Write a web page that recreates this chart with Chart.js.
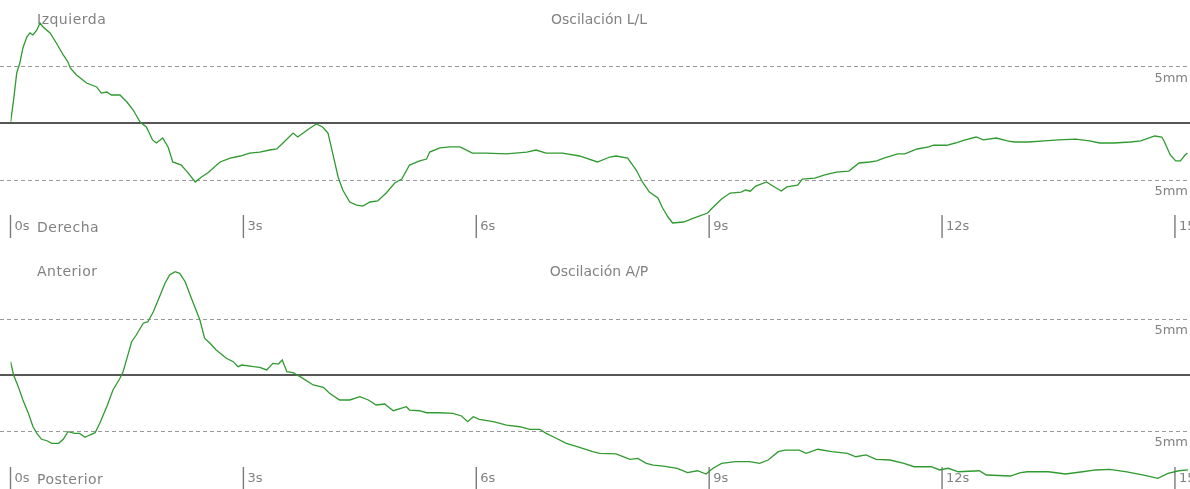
<!DOCTYPE html>
<html lang="es">
<head>
  <meta charset="UTF-8" />
  <title>Oscilación</title>
  <script src="https://cdn.jsdelivr.net/npm/chart.js"></script>
  <style>
    html, body { margin: 0; padding: 0; background: #fff; overflow: hidden; }
    .panel { position: absolute; left: 0; }
    #llPanel { top: 0; }
    #apPanel { top: 252px; }
  </style>
</head>
<body>
  <canvas id="llPanel" class="panel" width="1190" height="252"></canvas>
  <canvas id="apPanel" class="panel" width="1190" height="252"></canvas>

  <script>
    // Oscilación L/L (mm, + = izquierda)
    const llTime = [0, 0.04, 0.08, 0.12, 0.16, 0.21, 0.25, 0.29, 0.34, 0.38, 0.42, 0.51, 0.59, 0.68, 0.74, 0.77, 0.85, 0.98, 1.11, 1.17,
      1.24, 1.30, 1.41, 1.50, 1.58, 1.67, 1.75, 1.83, 1.88, 1.96, 2.03, 2.09, 2.20, 2.29, 2.38, 2.46, 2.54, 2.70, 2.83, 2.96,
      3.08, 3.21, 3.34, 3.43, 3.51, 3.64, 3.70, 3.77, 3.86, 3.94, 4.02, 4.09, 4.15, 4.22, 4.28, 4.37, 4.46, 4.54, 4.63, 4.73,
      4.84, 4.95, 5.04, 5.14, 5.27, 5.36, 5.40, 5.53, 5.66, 5.79, 5.95, 6.13, 6.39, 6.65, 6.77, 6.90, 7.11, 7.33, 7.56, 7.72,
      7.80, 7.95, 8.06, 8.14, 8.23, 8.34, 8.40, 8.47, 8.53, 8.67, 8.80, 8.98, 9.04, 9.16, 9.27, 9.41, 9.47, 9.53, 9.60, 9.74,
      9.82, 9.93, 10.00, 10.14, 10.20, 10.36, 10.49, 10.64, 10.80, 10.93, 11.07, 11.16, 11.25, 11.43, 11.52, 11.68, 11.83, 11.89, 12.06, 12.17,
      12.30, 12.44, 12.53, 12.70, 12.84, 12.93, 13.11, 13.32, 13.50, 13.72, 13.90, 14.03, 14.21, 14.43, 14.56, 14.74, 14.83, 14.86, 14.94, 15.01,
      15.07, 15.13, 15.16];
    const llMm = [0, 2.04, 4.43, 5.31, 6.64, 7.61, 7.97, 7.79, 8.23, 8.85, 8.50, 7.97, 7.08, 6.02, 5.40, 4.87, 4.25, 3.54, 3.19, 2.65,
      2.74, 2.48, 2.48, 1.86, 1.15, 0.09, -0.35, -1.50, -1.77, -1.33, -2.12, -3.45, -3.72, -4.43, -5.22, -4.78, -4.43, -3.45, -3.10, -2.92,
      -2.66, -2.57, -2.39, -2.30, -1.77, -0.89, -1.24, -0.89, -0.44, -0.09, -0.35, -0.89, -2.66, -4.78, -5.93, -6.99, -7.26, -7.35, -6.99, -6.90,
      -6.19, -5.31, -4.96, -3.72, -3.36, -3.19, -2.57, -2.21, -2.12, -2.12, -2.66, -2.66, -2.74, -2.57, -2.39, -2.66, -2.66, -2.92, -3.45, -3.01,
      -2.92, -3.10, -4.16, -5.22, -6.11, -6.64, -7.52, -8.32, -8.85, -8.76, -8.41, -7.97, -7.52, -6.73, -6.20, -6.11, -5.93, -6.04, -5.58, -5.22,
      -5.58, -6.02, -5.66, -5.49, -4.96, -4.87, -4.60, -4.34, -4.25, -3.54, -3.45, -3.36, -3.10, -2.74, -2.74, -2.30, -2.12, -1.95, -1.97, -1.77,
      -1.50, -1.24, -1.50, -1.33, -1.59, -1.68, -1.68, -1.59, -1.50, -1.42, -1.59, -1.77, -1.77, -1.68, -1.59, -1.15, -1.24, -1.59, -2.83, -3.36,
      -3.36, -2.83, -2.66];

    // Oscilación A/P (mm, + = anterior)
    const apTime = [0, 0.04, 0.10, 0.16, 0.23, 0.29, 0.34, 0.40, 0.47, 0.53, 0.62, 0.68, 0.74, 0.83, 0.89, 0.96, 1.02, 1.09, 1.15, 1.24,
      1.32, 1.41, 1.45, 1.50, 1.56, 1.62, 1.71, 1.77, 1.84, 1.92, 1.99, 2.05, 2.12, 2.18, 2.25, 2.33, 2.44, 2.50, 2.57, 2.65,
      2.78, 2.87, 2.93, 2.98, 3.13, 3.21, 3.30, 3.38, 3.45, 3.50, 3.56, 3.64, 3.73, 3.90, 4.03, 4.11, 4.24, 4.37, 4.50, 4.61,
      4.71, 4.82, 4.93, 5.10, 5.14, 5.27, 5.36, 5.53, 5.70, 5.81, 5.89, 5.96, 6.04, 6.22, 6.39, 6.56, 6.69, 6.82, 6.90, 7.03,
      7.16, 7.33, 7.50, 7.59, 7.80, 7.98, 8.08, 8.19, 8.28, 8.41, 8.59, 8.72, 8.85, 8.96, 9.05, 9.16, 9.34, 9.52, 9.65, 9.76,
      9.89, 9.98, 10.16, 10.25, 10.40, 10.58, 10.78, 10.89, 11.02, 11.15, 11.33, 11.51, 11.64, 11.86, 11.97, 12.08, 12.21, 12.48, 12.57, 12.88,
      13.01, 13.10, 13.37, 13.59, 13.81, 13.98, 14.16, 14.38, 14.60, 14.78, 14.91, 15.05, 15.17];
    const apMm = [1.19, 0, -1.04, -2.23, -3.42, -4.62, -5.21, -5.74, -5.87, -6.10, -6.10, -5.74, -5.06, -5.21, -5.21, -5.56, -5.36, -5.15, -4.31, -2.83,
      -1.34, -0.29, 0.29, 1.49, 2.97, 3.57, 4.62, 4.76, 5.65, 6.99, 8.19, 8.93, 9.22, 9.08, 8.33, 6.85, 4.91, 3.28, 2.83, 2.23,
      1.49, 1.19, 0.74, 0.89, 0.74, 0.69, 0.45, 1.04, 0.98, 1.34, 0.29, 0.21, -0.15, -0.89, -1.10, -1.63, -2.23, -2.23, -1.94, -2.23,
      -2.68, -2.59, -3.19, -2.83, -3.13, -3.19, -3.37, -3.37, -3.42, -3.66, -4.17, -3.72, -3.96, -4.17, -4.47, -4.62, -4.85, -4.85, -5.21, -5.65,
      -6.10, -6.46, -6.85, -6.99, -7.05, -7.53, -7.44, -7.89, -8.04, -8.13, -8.33, -8.72, -8.55, -8.84, -8.33, -7.89, -7.74, -7.74, -7.89, -7.59,
      -6.85, -6.70, -6.70, -6.99, -6.63, -6.85, -6.99, -7.30, -7.14, -7.53, -7.59, -7.89, -8.19, -8.19, -8.48, -8.33, -8.64, -8.55, -8.93, -9.02,
      -8.72, -8.64, -8.64, -8.84, -8.64, -8.48, -8.42, -8.64, -8.93, -9.22, -8.78, -8.55, -8.48];

    const tickSeconds = [0, 3, 6, 9, 12, 15];
    const guideLevels = [5, -5];

    const TICK_FONT = '13px "DejaVu Sans", Verdana, sans-serif';
    const CAPTION_FONT = '14px "DejaVu Sans", Verdana, sans-serif';
    const TEXT_COLOR = '#828282';

    // draws the reference lines, time ticks and panel captions
    const panelDecor = {
      id: 'panelDecor',
      beforeDatasetsDraw(chart, args, opts) {
        const ctx = chart.ctx;
        const xs = chart.scales.x;
        const ys = chart.scales.y;
        const left = 0, right = chart.width;

        ctx.save();
        ctx.strokeStyle = '#9a9a9a';
        ctx.lineWidth = 1;
        ctx.setLineDash([4, 3]);
        guideLevels.forEach(v => {
          const y = Math.round(ys.getPixelForValue(v)) + 0.5;
          ctx.beginPath();
          ctx.moveTo(left, y);
          ctx.lineTo(right, y);
          ctx.stroke();
        });
        ctx.setLineDash([]);
        ctx.strokeStyle = '#1e1e1e';
        ctx.lineWidth = 1.7;
        const y0 = ys.getPixelForValue(0);
        ctx.beginPath();
        ctx.moveTo(left, y0);
        ctx.lineTo(right, y0);
        ctx.stroke();

        // time ticks
        ctx.strokeStyle = '#7a7a7a';
        ctx.lineWidth = 1.4;
        ctx.font = TICK_FONT;
        ctx.fillStyle = TEXT_COLOR;
        ctx.textBaseline = 'middle';
        ctx.textAlign = 'left';
        tickSeconds.forEach(t => {
          const x = xs.getPixelForValue(t);
          ctx.beginPath();
          ctx.moveTo(x, 215);
          ctx.lineTo(x, 238);
          ctx.stroke();
          ctx.fillText(t + 's', x + 4, 227);
        });
        ctx.textAlign = 'right';
        guideLevels.forEach(v => {
          ctx.fillText('5mm', 1188, ys.getPixelForValue(v) + 12);
        });

        // captions
        ctx.font = CAPTION_FONT;
        ctx.textAlign = 'left';
        ctx.letterSpacing = '0.5px';
        ctx.fillText(opts.upper, 37, 20);
        ctx.fillText(opts.lower, 37, 228);
        ctx.letterSpacing = '0px';
        ctx.textAlign = 'center';
        ctx.fillText(opts.title, 599, 20);
        ctx.restore();
      }
    };

    function makePanel(canvasId, times, values, caption, pxPerMm) {
      const zeroPx = 123, height = 252;
      new Chart(document.getElementById(canvasId), {
        type: 'line',
        data: {
          datasets: [{
            data: times.map((t, i) => ({ x: t, y: values[i] })),
            borderColor: '#2f9a2f',
            borderWidth: 1.3,
            pointRadius: 0,
            tension: 0,
            fill: false
          }]
        },
        options: {
          responsive: false,
          animation: false,
          devicePixelRatio: 1,
          layout: { padding: { left: 10.5, right: 0, top: 0, bottom: 0 } },
          scales: {
            x: { type: 'linear', min: 0, max: 15.194, display: false },
            y: { min: -(height - zeroPx) / pxPerMm, max: zeroPx / pxPerMm, display: false }
          },
          plugins: {
            legend: { display: false },
            tooltip: { enabled: false },
            panelDecor: caption
          }
        },
        plugins: [panelDecor]
      });
    }

    makePanel('llPanel', llTime, llMm,
      { upper: 'Izquierda', lower: 'Derecha', title: 'Oscilación L/L' }, 11.3);
    makePanel('apPanel', apTime, apMm,
      { upper: 'Anterior', lower: 'Posterior', title: 'Oscilación A/P' }, 11.2);
  </script>
</body>
</html>
